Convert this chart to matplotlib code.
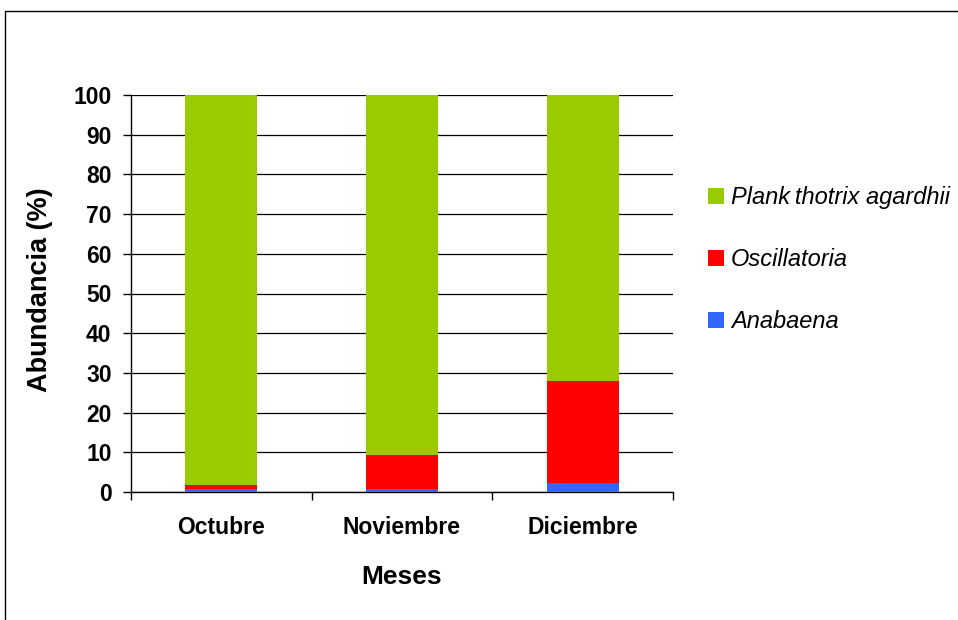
import matplotlib.pyplot as plt
from matplotlib.patches import Rectangle

meses = ["Octubre", "Noviembre", "Diciembre"]
anabaena = [0.7, 0.8, 2.2]
oscillatoria = [1.0, 8.5, 25.8]
planktothrix = [98.3, 90.7, 72.0]

etiquetas = ["Plank\u2009thotrix agardhii", "Oscillatoria", "Anabaena"]
colores = ["#99CC00", "#FF0000", "#3366FF"]

plt.rcParams["font.family"] = ["Liberation Sans", "DejaVu Sans"]

fig = plt.figure(figsize=(9.58, 6.2), dpi=100)
ax = fig.add_axes([131 / 958, 128 / 620, 542 / 958, 397 / 620])

# marco exterior
fig.patches.append(Rectangle((5 / 958, -0.1), 1.2, (620 - 11) / 620 + 0.1,
                             transform=fig.transFigure, fill=False,
                             edgecolor="black", linewidth=1.0))

x = list(range(len(meses)))
w = 0.4
b1 = ax.bar(x, anabaena, w, color=colores[2], zorder=3)
b2 = ax.bar(x, oscillatoria, w, bottom=anabaena, color=colores[1], zorder=3)
base3 = [a + o for a, o in zip(anabaena, oscillatoria)]
b3 = ax.bar(x, planktothrix, w, bottom=base3, color=colores[0], zorder=3)

ax.set_xlim(-0.5, 2.5)
ax.set_ylim(0, 100)
ax.set_yticks(range(0, 101, 10))
ax.yaxis.grid(True, color="black", linewidth=0.9, zorder=0)
ax.set_axisbelow(True)

# ticks mayores en los bordes de cada categoria, etiquetas en el centro
ax.set_xticks([-0.5, 0.5, 1.5, 2.5])
ax.set_xticklabels([])
ax.set_xticks(x, minor=True)
ax.set_xticklabels(meses, minor=True, fontsize=16.5, fontweight="bold")
ax.tick_params(axis="x", which="minor", length=0, pad=17)
ax.tick_params(axis="x", which="major", length=6, width=1, direction="out")
ax.tick_params(axis="y", length=6, width=1, direction="out", pad=8)
for t in ax.get_yticklabels():
    t.set_fontsize(16.5)
    t.set_fontweight("bold")

for s in ["top", "right"]:
    ax.spines[s].set_visible(False)
ax.spines["left"].set_linewidth(1)
ax.spines["bottom"].set_linewidth(1)

ax.set_xlabel("Meses", fontsize=19, fontweight="bold")
ax.xaxis.set_label_coords(0.5, (492 - 565) / 397)
ax.set_ylabel("Abundancia (%)", fontsize=19.5, fontweight="bold")
ax.yaxis.set_label_coords((53 - 131) / 542, 0.51)

leg = fig.legend([b3, b2, b1], etiquetas, loc="upper left",
                 bbox_to_anchor=(708 / 958, (620 - 186) / 620), frameon=False,
                 handlelength=0.68, handleheight=0.68, handletextpad=0.3,
                 labelspacing=1.65, borderpad=0, borderaxespad=0,
                 prop={"size": 17, "style": "italic",
                       "family": ["Liberation Sans", "DejaVu Sans"]})

fig.savefig("out.png", dpi=100)
